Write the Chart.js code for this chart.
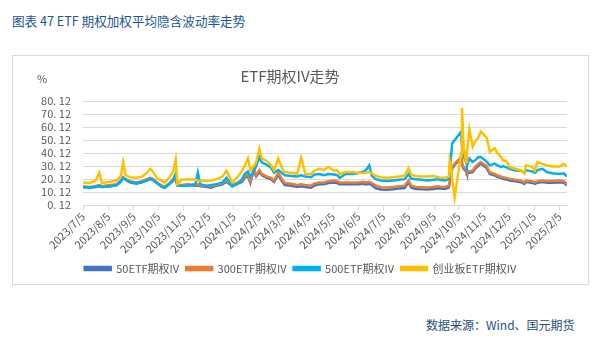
<!DOCTYPE html>
<html lang="zh-CN">
<head>
<meta charset="UTF-8">
<title>ETF期权IV走势</title>
<script src="https://cdn.jsdelivr.net/npm/chart.js@4.4.1/dist/chart.umd.min.js"></script>
<style>
  body { margin: 0; background: #fff; font-family: "Noto Sans CJK SC", sans-serif; }
  .page { position: relative; width: 600px; height: 345px; overflow: hidden; }
  .fig-title { position: absolute; left: 12px; top: 11px; font-size: 12.6px; color: #1c5596; }
  .frame { position: absolute; left: 12px; top: 55px; width: 575px; height: 228px; border: 1px solid #d9d9d9; }
  .source { position: absolute; left: 426px; top: 316px; font-size: 12px; color: #1f4e79; }
</style>
</head>
<body>
<div class="page">
  <div class="fig-title">图表 47 ETF 期权加权平均隐含波动率走势</div>
  <div class="frame"><canvas id="ivChart" width="575" height="228"></canvas></div>
  <div class="source">数据来源：Wind、国元期货</div>
</div>

<script>
// 日期
const dates = [
  '2023/7/5','2023/7/13','2023/7/20','2023/7/25','2023/7/28','2023/8/7','2023/8/15','2023/8/20',
  '2023/8/23','2023/8/26','2023/8/31','2023/9/8','2023/9/15','2023/9/21','2023/9/25','2023/9/28',
  '2023/10/3','2023/10/9','2023/10/13','2023/10/18','2023/10/23','2023/10/26','2023/10/28','2023/11/2',
  '2023/11/10','2023/11/19','2023/11/22','2023/11/25','2023/12/3','2023/12/8','2023/12/15','2023/12/22',
  '2023/12/27','2024/1/3','2024/1/10','2024/1/15','2024/1/18','2024/1/22','2024/1/25','2024/1/29',
  '2024/2/1','2024/2/5','2024/2/8','2024/2/14','2024/2/19','2024/2/23','2024/2/28','2024/3/4',
  '2024/3/7','2024/3/15','2024/3/22','2024/3/27','2024/4/1','2024/4/8','2024/4/12','2024/4/18',
  '2024/4/24','2024/4/29','2024/5/6','2024/5/10','2024/5/13','2024/5/20','2024/5/28','2024/6/4',
  '2024/6/11','2024/6/14','2024/6/18','2024/6/21','2024/6/26','2024/7/2','2024/7/10','2024/7/17',
  '2024/7/24','2024/7/31','2024/8/5','2024/8/8','2024/8/14','2024/8/21','2024/8/28','2024/9/4',
  '2024/9/10','2024/9/13','2024/9/18','2024/9/23','2024/9/24','2024/9/26','2024/9/27','2024/9/30',
  '2024/10/8','2024/10/9','2024/10/11','2024/10/14','2024/10/15','2024/10/18','2024/10/22','2024/10/25',
  '2024/10/29','2024/11/1','2024/11/8','2024/11/12','2024/11/18','2024/11/21','2024/11/26','2024/11/28',
  '2024/12/2','2024/12/6','2024/12/13','2024/12/20','2024/12/24','2024/12/26','2025/1/2','2025/1/6',
  '2025/1/9','2025/1/15','2025/1/21','2025/1/27','2025/2/5','2025/2/10','2025/2/14'
];

const iv50 = [
  14.0,13.5,14.0,14.5,14.0,14.5,15.5,18.0, 21.0,19.5,17.5,16.5,17.5,19.0,20.0,19.5,
  17.0,14.5,13.5,16.0,18.5,21.0,15.0,15.0, 15.5,15.0,15.0,14.5,14.0,13.5,15.0,16.0,
  18.0,14.5,16.5,18.0,21.0,22.5,17.0,26.5, 22.0,25.5,23.0,21.0,20.0,18.0,23.5,18.0,
  15.5,15.0,14.0,14.5,14.0,13.5,15.0,16.0, 16.0,17.0,17.5,17.0,16.0,16.0,16.0,16.0,
  16.5,16.0,16.5,15.5,13.0,12.0,11.8,12.2, 12.8,13.2,17.5,13.5,12.5,12.2,12.0,12.5,
  13.0,12.8,12.5,13.5,17.0,23.0,28.0,31.0, 36.0,31.0,28.0,26.0,24.0,25.0,25.5,28.0,
  30.5,32.0,28.5,24.0,22.8,21.8,20.8,20.2, 19.8,19.0,18.3,17.7,16.3,17.8,17.3,16.3,
  17.3,17.8,17.3,17.3,17.7,17.3,15.3
];

const iv300 = [
  14.5,14.0,14.8,15.5,14.5,15.5,16.0,19.0, 21.5,20.0,18.5,17.5,18.5,20.0,21.0,20.5,
  17.5,15.0,14.5,16.5,19.0,22.0,15.0,15.5, 16.0,15.5,16.0,15.0,14.5,14.5,15.5,17.0,
  19.0,15.5,17.5,19.0,22.0,24.0,18.0,28.0, 23.0,27.0,24.0,22.0,21.0,19.0,25.0,19.5,
  17.0,16.5,15.5,16.0,15.5,15.0,16.5,17.5, 17.5,18.5,19.0,18.5,17.5,17.5,17.5,17.5,
  18.0,17.5,18.0,17.0,15.0,13.8,13.5,14.0, 14.5,15.0,19.0,15.0,14.0,13.8,13.5,14.0,
  14.5,14.2,14.0,15.0,18.0,24.0,29.3,32.0, 37.0,32.0,29.3,27.0,25.3,26.0,26.7,29.3,
  31.8,33.2,30.0,25.3,24.0,23.0,22.0,21.4, 21.0,20.2,19.5,18.9,17.5,19.0,18.5,17.5,
  18.5,19.0,18.5,18.5,18.9,18.5,16.5
];

const iv500 = [
  13.8,13.5,14.0,15.0,14.0,14.5,15.5,18.0, 21.0,19.5,18.0,17.0,18.0,19.0,20.5,19.5,
  17.0,14.0,13.5,16.5,20.0,24.5,15.0,15.0, 15.0,16.0,25.0,16.0,15.0,15.5,16.0,17.5,
  21.0,14.5,17.0,20.0,24.0,26.0,22.0,26.0, 30.0,37.0,33.0,31.0,29.0,25.0,27.0,24.5,
  23.0,22.5,22.0,23.0,22.0,21.5,23.5,24.0, 23.0,24.0,23.5,23.0,21.0,24.0,24.0,24.5,
  26.0,27.0,30.5,22.5,20.0,19.0,18.5,19.0, 19.5,20.0,24.0,20.5,20.0,19.5,19.0,19.5,
  20.0,19.4,19.0,20.0,25.0,40.0,47.5,50.0, 56.6,45.0,38.4,33.0,30.6,35.8,33.2,34.5,
  37.0,37.0,33.5,30.6,32.0,30.6,29.3,30.0, 29.0,28.0,26.7,26.5,24.6,27.0,26.0,25.0,
  27.0,28.0,25.3,24.5,24.0,24.5,22.0
];

const ivCyb = [
  17.5,17.0,18.5,25.0,17.0,18.0,19.0,22.0, 33.0,23.0,21.5,21.0,22.0,25.0,28.0,26.0,
  21.0,18.5,17.5,21.0,26.0,35.0,16.0,19.5, 20.0,19.5,19.0,18.5,18.5,19.0,20.0,22.0,
  26.5,17.5,22.0,26.5,30.0,36.0,27.0,30.0, 33.0,43.5,36.0,34.0,31.0,27.0,36.0,28.0,
  25.5,25.0,24.0,36.5,24.0,24.0,26.5,28.0, 27.0,29.5,26.5,27.0,24.0,25.5,25.5,25.0,
  25.0,25.0,25.5,24.5,22.5,21.5,21.0,21.5, 22.0,22.5,28.5,23.5,22.5,22.0,22.0,22.5,
  21.5,21.0,21.0,22.0,34.5,28.0,20.0,5.8, 40.0,74.9,45.0,33.0,40.0,58.0,45.0,48.8,
  52.0,56.6,52.0,41.0,43.8,40.0,37.0,34.5, 34.0,29.3,28.0,26.7,24.6,30.6,29.5,26.7,
  33.2,31.8,30.5,29.8,29.8,31.8,29.8
];

// 坐标轴刻度
const monthTicks = [
  '2023/7/5','2023/8/5','2023/9/5','2023/10/5','2023/11/5','2023/12/5','2024/1/5','2024/2/5',
  '2024/3/5','2024/4/5','2024/5/5','2024/6/5','2024/7/5','2024/8/5','2024/9/5','2024/10/5',
  '2024/11/5','2024/12/5','2025/1/5','2025/2/5'
];
const yTicks = [0.12, 10.12, 20.12, 30.12, 40.12, 50.12, 60.12, 70.12, 80.12];

// 日期 -> 距 2023/7/5 的天数
function dayOf(s) {
  const p = s.split('/').map(Number);
  return Math.round((Date.UTC(p[0], p[1] - 1, p[2]) - Date.UTC(2023, 6, 5)) / 86400000);
}
function toPoints(arr) {
  return arr.map((v, i) => ({ x: dayOf(dates[i]), y: v }));
}

const grey = '#595959';
const fontCn = '"Noto Sans CJK SC", sans-serif';

const percentLabel = {
  id: 'percentLabel',
  afterLayout(chart) {
    // 图例在整个画布中居中
    const lg = chart.legend;
    lg.left = 0;
    lg.right = chart.width;
    lg.width = chart.width;
  },
  afterDraw(chart) {
    const ctx = chart.ctx;
    ctx.save();
    ctx.font = '11px ' + fontCn;
    ctx.fillStyle = grey;
    ctx.textBaseline = 'middle';
    ctx.fillText('%', 24, 23);
    ctx.restore();
  }
};

function line(label, data, color, order) {
  return {
    label: label,
    data: toPoints(data),
    borderColor: color,
    backgroundColor: color,
    borderWidth: 2.5,
    pointRadius: 0,
    tension: 0,
    order: order
  };
}

new Chart(document.getElementById('ivChart'), {
  type: 'line',
  data: {
    datasets: [
      line('50ETF期权IV', iv50, '#4472c4', 4),
      line('300ETF期权IV', iv300, '#ed7d31', 3),
      line('500ETF期权IV', iv500, '#00b0f0', 2),
      line('创业板ETF期权IV', ivCyb, '#ffc000', 1)
    ]
  },
  options: {
    responsive: false,
    animation: false,
    layout: { padding: { left: 0, right: 21, top: 0, bottom: 0 } },
    plugins: {
      title: {
        display: true,
        text: 'ETF期权IV走势',
        color: grey,
        font: { family: fontCn, size: 15, weight: 'normal' },
        padding: { top: 11, bottom: 16 }
      },
      legend: {
        position: 'bottom',
        reverse: true,
        labels: {
          boxWidth: 26,
          boxHeight: 3,
          padding: 7,
          color: grey,
          font: { family: fontCn, size: 11 }
        }
      },
      tooltip: { enabled: false }
    },
    scales: {
      x: {
        type: 'linear',
        min: 0,
        max: dayOf(dates[dates.length - 1]),
        afterBuildTicks: s => { s.ticks = monthTicks.map(t => ({ value: dayOf(t) })); },
        afterFit: s => { s.height = 51; },
        ticks: {
          autoSkip: false,
          minRotation: 45,
          maxRotation: 45,
          padding: 0,
          color: grey,
          font: { family: fontCn, size: 11 },
          callback: (v, i) => monthTicks[i]
        },
        grid: { drawOnChartArea: false, drawTicks: true, tickLength: 5, color: '#d9d9d9' },
        border: { display: true, color: '#d9d9d9' }
      },
      y: {
        min: 0.12,
        max: 80.12,
        afterBuildTicks: s => { s.ticks = yTicks.map(v => ({ value: v })); },
        afterFit: s => { s.width = 70; },
        ticks: {
          autoSkip: false,
          padding: 12,
          color: grey,
          font: { family: fontCn, size: 11 },
          callback: v => v.toFixed(2).replace('.', '. ')
        },
        grid: { color: '#d9d9d9', drawTicks: false },
        border: { display: false }
      }
    }
  },
  plugins: [percentLabel]
});
</script>
</body>
</html>
